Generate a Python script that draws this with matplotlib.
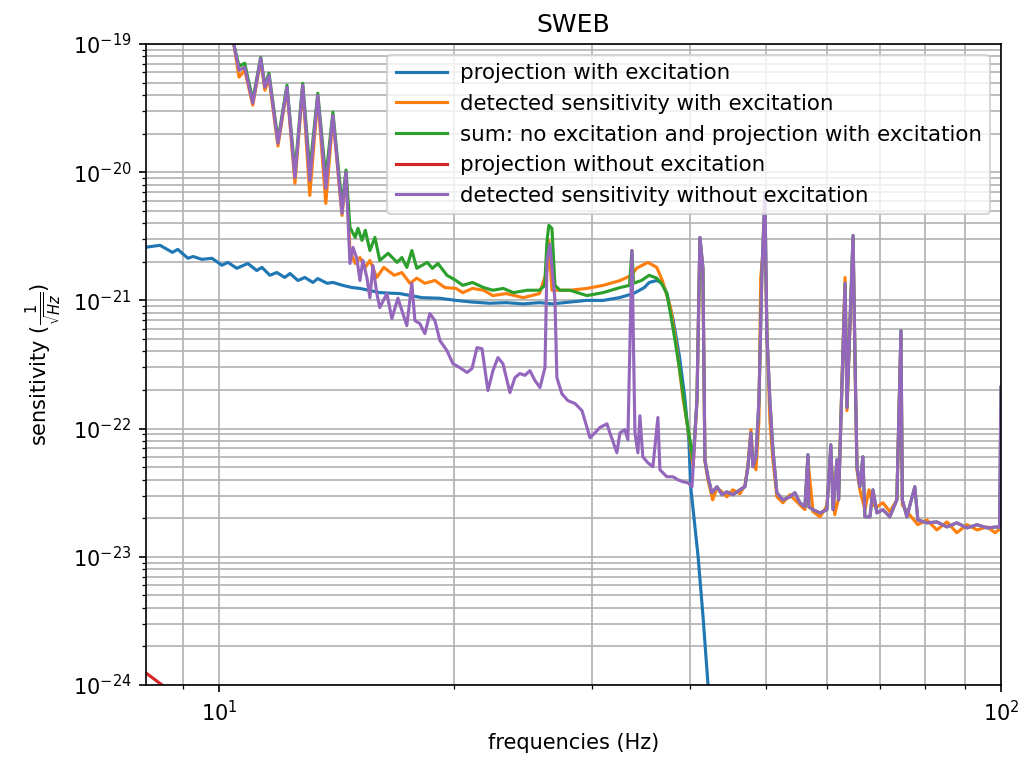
import matplotlib
matplotlib.use('Agg')
import matplotlib.pyplot as plt
import numpy as np

# (frequency Hz, sensitivity 1/sqrt(Hz))

proj_exc = [
    (8.07, 2.6e-21), (8.41, 2.69e-21), (8.72, 2.37e-21), (8.86, 2.5e-21), (9.13, 2.13e-21),
    (9.27, 2.2e-21), (9.51, 2.09e-21), (9.8, 2.13e-21), (10.09, 1.88e-21), (10.27, 1.98e-21),
    (10.54, 1.78e-21), (10.89, 1.94e-21), (11.18, 1.71e-21), (11.35, 1.81e-21), (11.62, 1.57e-21),
    (11.86, 1.65e-21), (12.14, 1.51e-21), (12.33, 1.62e-21), (12.62, 1.43e-21), (12.88, 1.51e-21),
    (13.19, 1.38e-21), (13.38, 1.48e-21), (13.75, 1.36e-21), (14.0, 1.38e-21), (14.4, 1.31e-21),
    (14.8, 1.26e-21), (15.15, 1.24e-21), (16.06, 1.15e-21), (17.03, 1.13e-21), (18.2, 1.05e-21),
    (19.15, 1.04e-21), (20.1, 1.0e-21), (21.1, 0.97e-21), (22.2, 0.95e-21), (23.3, 0.96e-21),
    (24.5, 0.94e-21), (25.7, 0.96e-21), (26.7, 0.94e-21), (28.1, 0.97e-21), (29.5, 1.0e-21),
    (31.0, 1.0e-21), (32.5, 1.05e-21), (33.9, 1.13e-21), (35.0, 1.26e-21), (35.5, 1.38e-21),
    (36.3, 1.43e-21), (36.9, 1.36e-21), (37.4, 1.13e-21), (38.1, 7.0e-22), (38.8, 3.7e-22),
    (39.4, 1.8e-22), (39.9, 8.1e-23), (40.1, 3.6e-23), (41.0, 1.0e-23), (41.6, 3.4e-24),
    (42.2, 1.03e-24), (42.8, 3.7e-25),
]

det_exc = [
    (9.8, 4e-19), (10.45, 1.0e-19), (10.61, 5.51e-20), (10.79, 6.25e-20), (11.05, 3.33e-20),
    (11.31, 7.48e-20), (11.45, 4.36e-20), (11.59, 5.41e-20), (11.9, 1.6e-20), (12.22, 4.44e-20),
    (12.51, 8.18e-21), (12.8, 4.6e-20), (13.07, 6.59e-21), (13.38, 3.85e-20), (13.7, 5.71e-21),
    (13.99, 2.69e-20), (14.37, 4.6e-21), (14.54, 9.6e-21), (14.71, 2.45e-21), (14.94, 1.94e-21),
    (15.15, 2.16e-21), (15.39, 1.81e-21), (15.6, 2.05e-21), (15.92, 1.51e-21), (16.25, 1.81e-21),
    (16.76, 1.57e-21), (17.14, 1.65e-21), (17.55, 1.36e-21), (17.91, 1.49e-21), (18.34, 1.36e-21),
    (18.89, 1.43e-21), (19.45, 1.26e-21), (20.1, 1.24e-21), (20.5, 1.15e-21), (21.1, 1.24e-21),
    (21.8, 1.2e-21), (22.4, 1.09e-21), (23.3, 1.13e-21), (24.5, 1.05e-21), (25.7, 1.13e-21),
    (26.28, 1.71e-21), (26.42, 2.94e-21), (26.66, 1.2e-21), (28.1, 1.2e-21), (29.56, 1.24e-21),
    (31.0, 1.31e-21), (32.6, 1.43e-21), (33.7, 1.57e-21), (34.2, 1.78e-21), (35.36, 1.98e-21),
    (36.3, 1.81e-21), (36.9, 1.43e-21), (37.8, 8.79e-22), (38.5, 4.28e-22), (39.2, 1.75e-22),
    (40.0, 8.18e-23), (40.4, 5.04e-23), (40.86, 1.65e-22), (41.22, 2.94e-21), (41.58, 1.71e-21),
    (41.83, 5.51e-23), (42.2, 3.99e-23), (42.8, 2.78e-23), (43.34, 3.45e-23), (43.98, 3.21e-23),
    (44.63, 2.94e-23), (45.43, 3.33e-23), (46.37, 3.1e-23), (47.06, 3.6e-23), (47.48, 5.2e-23),
    (47.9, 9.8e-23), (48.18, 5.51e-23), (48.61, 4.77e-23), (49.04, 1.15e-22), (49.3, 1.51e-21),
    (49.91, 3.52e-21), (50.2, 5.81e-22), (50.65, 1.15e-22), (51.1, 5.71e-23), (51.7, 2.94e-23),
    (52.62, 2.64e-23), (53.72, 3.05e-23), (54.52, 2.78e-23), (55.33, 2.54e-23), (56.15, 2.33e-23),
    (56.65, 5.71e-23), (57.5, 2.25e-23), (58.7, 2.05e-23), (59.9, 2.5e-23), (60.6, 6.25e-23),
    (61.3, 2.13e-23), (62.0, 2.88e-23), (62.6, 2.16e-22), (63.2, 1.51e-21), (63.55, 1.38e-22),
    (64.7, 2.94e-21), (65.1, 2.83e-22), (65.45, 4.77e-23), (66.0, 3.33e-23), (67.0, 2.33e-23),
    (67.8, 3.33e-23), (68.6, 2.54e-23), (69.4, 2.45e-23), (70.65, 2.64e-23), (72.1, 2.25e-23),
    (73.6, 2.78e-23), (74.5, 5.31e-22), (74.8, 2.54e-23), (76.4, 2.13e-23), (78.3, 1.78e-23),
    (80.4, 1.94e-23), (82.8, 1.62e-23), (85.3, 1.87e-23), (87.8, 1.54e-23), (90.5, 1.78e-23),
    (93.2, 1.62e-23), (96.0, 1.71e-23), (98.3, 1.54e-23), (99.3, 1.62e-23),
]

sum_low = [
    (9.8, 4e-19), (10.45, 1.0e-19), (10.61, 6.71e-20), (10.79, 7.08e-20), (11.05, 3.65e-20),
    (11.31, 7.89e-20), (11.45, 4.77e-20), (11.59, 5.92e-20), (11.9, 1.78e-20), (12.22, 4.77e-20),
    (12.51, 1.0e-20), (12.8, 4.94e-20), (13.07, 1.04e-20), (13.38, 4.13e-20), (13.7, 9.1e-21),
    (13.99, 2.94e-20), (14.37, 5.51e-21), (14.54, 1.04e-20), (14.71, 3.71e-21), (14.94, 3.1e-21),
    (15.06, 3.65e-21), (15.24, 2.94e-21), (15.39, 3.52e-21), (15.6, 2.45e-21), (15.83, 3.1e-21),
    (16.06, 2.05e-21), (16.46, 2.33e-21), (16.9, 1.98e-21), (17.14, 2.16e-21), (17.39, 1.81e-21),
    (17.65, 2.45e-21), (17.91, 1.78e-21), (18.47, 1.98e-21), (18.75, 1.78e-21), (19.06, 1.94e-21),
    (19.57, 1.57e-21), (20.1, 1.43e-21), (20.5, 1.31e-21), (21.1, 1.38e-21), (21.8, 1.26e-21),
    (22.4, 1.2e-21), (23.1, 1.24e-21), (23.8, 1.15e-21), (24.8, 1.2e-21), (25.7, 1.2e-21),
    (26.1, 1.31e-21), (26.28, 2.94e-21), (26.42, 3.85e-21), (26.66, 3.65e-21), (26.9, 1.31e-21),
    (27.3, 1.2e-21), (28.1, 1.2e-21), (29.56, 1.09e-21), (31.0, 1.15e-21), (32.6, 1.26e-21),
    (33.5, 1.31e-21), (33.74, 2.45e-21), (33.9, 1.36e-21), (34.7, 1.43e-21), (35.5, 1.57e-21),
    (36.3, 1.49e-21), (36.8, 1.36e-21), (37.4, 1.13e-21), (38.07, 6.14e-22), (38.8, 2.99e-22),
    (39.6, 1.22e-22), (40.4, 5.71e-23),
]

det_noexc_low = [
    (9.8, 4e-19), (10.45, 1.0e-19), (10.61, 6.25e-20), (10.79, 6.59e-20), (11.05, 3.45e-20),
    (11.31, 7.75e-20), (11.45, 4.6e-20), (11.59, 5.71e-20), (11.9, 1.68e-20), (12.22, 4.6e-20),
    (12.51, 9.1e-21), (12.8, 4.77e-20), (13.07, 8.63e-21), (13.38, 3.98e-20), (13.7, 7.48e-21),
    (13.99, 2.78e-20), (14.37, 4.77e-21), (14.54, 1.0e-20), (14.71, 1.94e-21), (14.84, 2.59e-21),
    (15.01, 2.13e-21), (15.15, 1.43e-21), (15.28, 2.05e-21), (15.46, 1.51e-21), (15.6, 1.05e-21),
    (15.74, 1.87e-21), (15.92, 1.13e-21), (16.06, 8.79e-22), (16.4, 1.13e-21), (16.64, 7.21e-22),
    (16.94, 1.04e-21), (17.14, 8.33e-22), (17.39, 6.36e-22), (17.65, 1.36e-21), (17.81, 6.96e-22),
    (18.07, 6.59e-22), (18.34, 5.51e-22), (18.61, 7.89e-22), (18.89, 6.96e-22), (19.17, 4.86e-22),
    (19.57, 4.06e-22), (19.92, 3.21e-22), (20.33, 2.99e-22), (20.76, 2.74e-22), (21.07, 2.94e-22),
    (21.38, 4.28e-22), (21.7, 4.2e-22), (22.08, 1.98e-22), (22.41, 2.83e-22), (22.74, 3.58e-22),
    (23.08, 3.21e-22), (23.56, 1.91e-22), (23.91, 2.5e-22), (24.26, 2.69e-22), (24.62, 2.6e-22),
    (24.99, 2.83e-22), (25.36, 2.37e-22), (25.74, 2.09e-22), (26.12, 2.99e-22), (26.28, 2.05e-21),
    (26.5, 2.75e-21), (26.9, 1.0e-21), (27.05, 2.5e-22), (27.45, 1.87e-22), (27.95, 1.65e-22),
    (28.53, 1.57e-22), (29.13, 1.38e-22), (29.56, 1.02e-22), (29.82, 8.48e-23), (30.26, 9.27e-23),
    (30.71, 1.02e-22), (31.35, 1.09e-22), (31.62, 9.27e-23), (32.28, 6.48e-23), (32.57, 9.27e-23),
    (33.05, 9.8e-23), (33.34, 8.18e-23), (33.74, 2.45e-21), (34.04, 9.27e-23), (34.34, 6.48e-23),
    (34.54, 1.26e-22), (34.84, 6.03e-23), (35.36, 5.41e-23), (35.89, 5.04e-23), (36.42, 1.22e-22),
    (36.64, 4.77e-23), (37.4, 4.21e-23), (38.07, 4.21e-23), (38.63, 3.99e-23), (39.2, 3.85e-23),
    (39.79, 3.78e-23), (40.27, 3.52e-23),
]

# above ~41 Hz the "no excitation" and "sum" curves lie on top of each other
det_noexc_high = [
    (40.86, 1.65e-22), (41.22, 3.1e-21), (41.58, 1.81e-21), (41.83, 5.71e-23), (42.2, 4.21e-23),
    (42.7, 3.16e-23), (43.34, 3.52e-23), (43.98, 3.05e-23), (44.63, 3.21e-23), (45.43, 3.05e-23),
    (46.37, 3.33e-23), (47.06, 3.52e-23), (47.48, 5.04e-23), (47.9, 9.27e-23), (48.18, 5.04e-23),
    (48.61, 6.03e-23), (49.04, 1.65e-22), (49.47, 1.62e-21), (49.91, 7.0e-21), (50.2, 5.51e-22),
    (50.65, 1.65e-22), (51.1, 6.84e-23), (51.7, 3.16e-23), (52.62, 2.78e-23), (53.72, 2.94e-23),
    (54.52, 3.16e-23), (55.33, 2.64e-23), (56.15, 2.45e-23), (56.65, 6.25e-23), (56.8, 2.45e-23),
    (57.5, 2.33e-23), (58.7, 2.2e-23), (59.9, 2.33e-23), (60.6, 7.48e-23), (61.0, 2.33e-23),
    (61.7, 5.71e-23), (62.0, 2.78e-23), (62.6, 2.09e-22), (63.2, 1.36e-21), (63.55, 1.46e-22),
    (64.7, 3.21e-21), (65.1, 2.99e-22), (65.45, 5.04e-23), (66.0, 3.52e-23), (66.6, 6.03e-23),
    (67.0, 2.05e-23), (68.0, 2.05e-23), (68.6, 3.33e-23), (69.4, 2.2e-23), (70.65, 2.33e-23),
    (72.1, 2.05e-23), (73.6, 2.78e-23), (74.5, 5.81e-22), (74.8, 2.78e-23), (75.8, 2.05e-23),
    (77.6, 3.52e-23), (78.3, 1.94e-23), (80.4, 1.84e-23), (82.8, 1.87e-23), (85.3, 1.71e-23),
    (87.8, 1.84e-23), (90.5, 1.68e-23), (93.2, 1.78e-23), (96.0, 1.68e-23), (98.8, 1.71e-23),
    (99.6, 1.7e-23), (100.0, 2.1e-22),
]

proj_noexc = [(8.0, 1.3e-24), (8.07, 1.24e-24), (8.46, 1.0e-24), (9.5, 5.9e-25), (12.0, 2.0e-25)]

labels = [
    'projection with excitation',
    'detected sensitivity with excitation',
    'sum: no excitation and projection with excitation',
    'projection without excitation',
    'detected sensitivity without excitation',
]

curves = [
    proj_exc,
    det_exc,
    sum_low + det_noexc_high,
    proj_noexc,
    det_noexc_low + det_noexc_high,
]

fig = plt.figure(figsize=(6.9, 5.0667), dpi=150)
ax = fig.add_axes([0.1411, 0.0987, 0.826, 0.8434])

for pts, lab in zip(curves, labels):
    f, s = np.array(pts).T
    ax.plot(f, s, label=lab)

ax.set_xscale('log')
ax.set_yscale('log')
ax.set_xlim(8.07, 100)
ax.set_ylim(1e-24, 1e-19)
ax.grid(True, which='both')
ax.set_title('SWEB')
ax.set_xlabel('frequencies (Hz)')
ax.set_ylabel(r'sensitivity ($\frac{1}{\sqrt{Hz}}$)')
ax.legend(loc='upper right', fontsize=10.25, handlelength=2.4, handletextpad=0.6)

fig.savefig('out.png', dpi=150)
